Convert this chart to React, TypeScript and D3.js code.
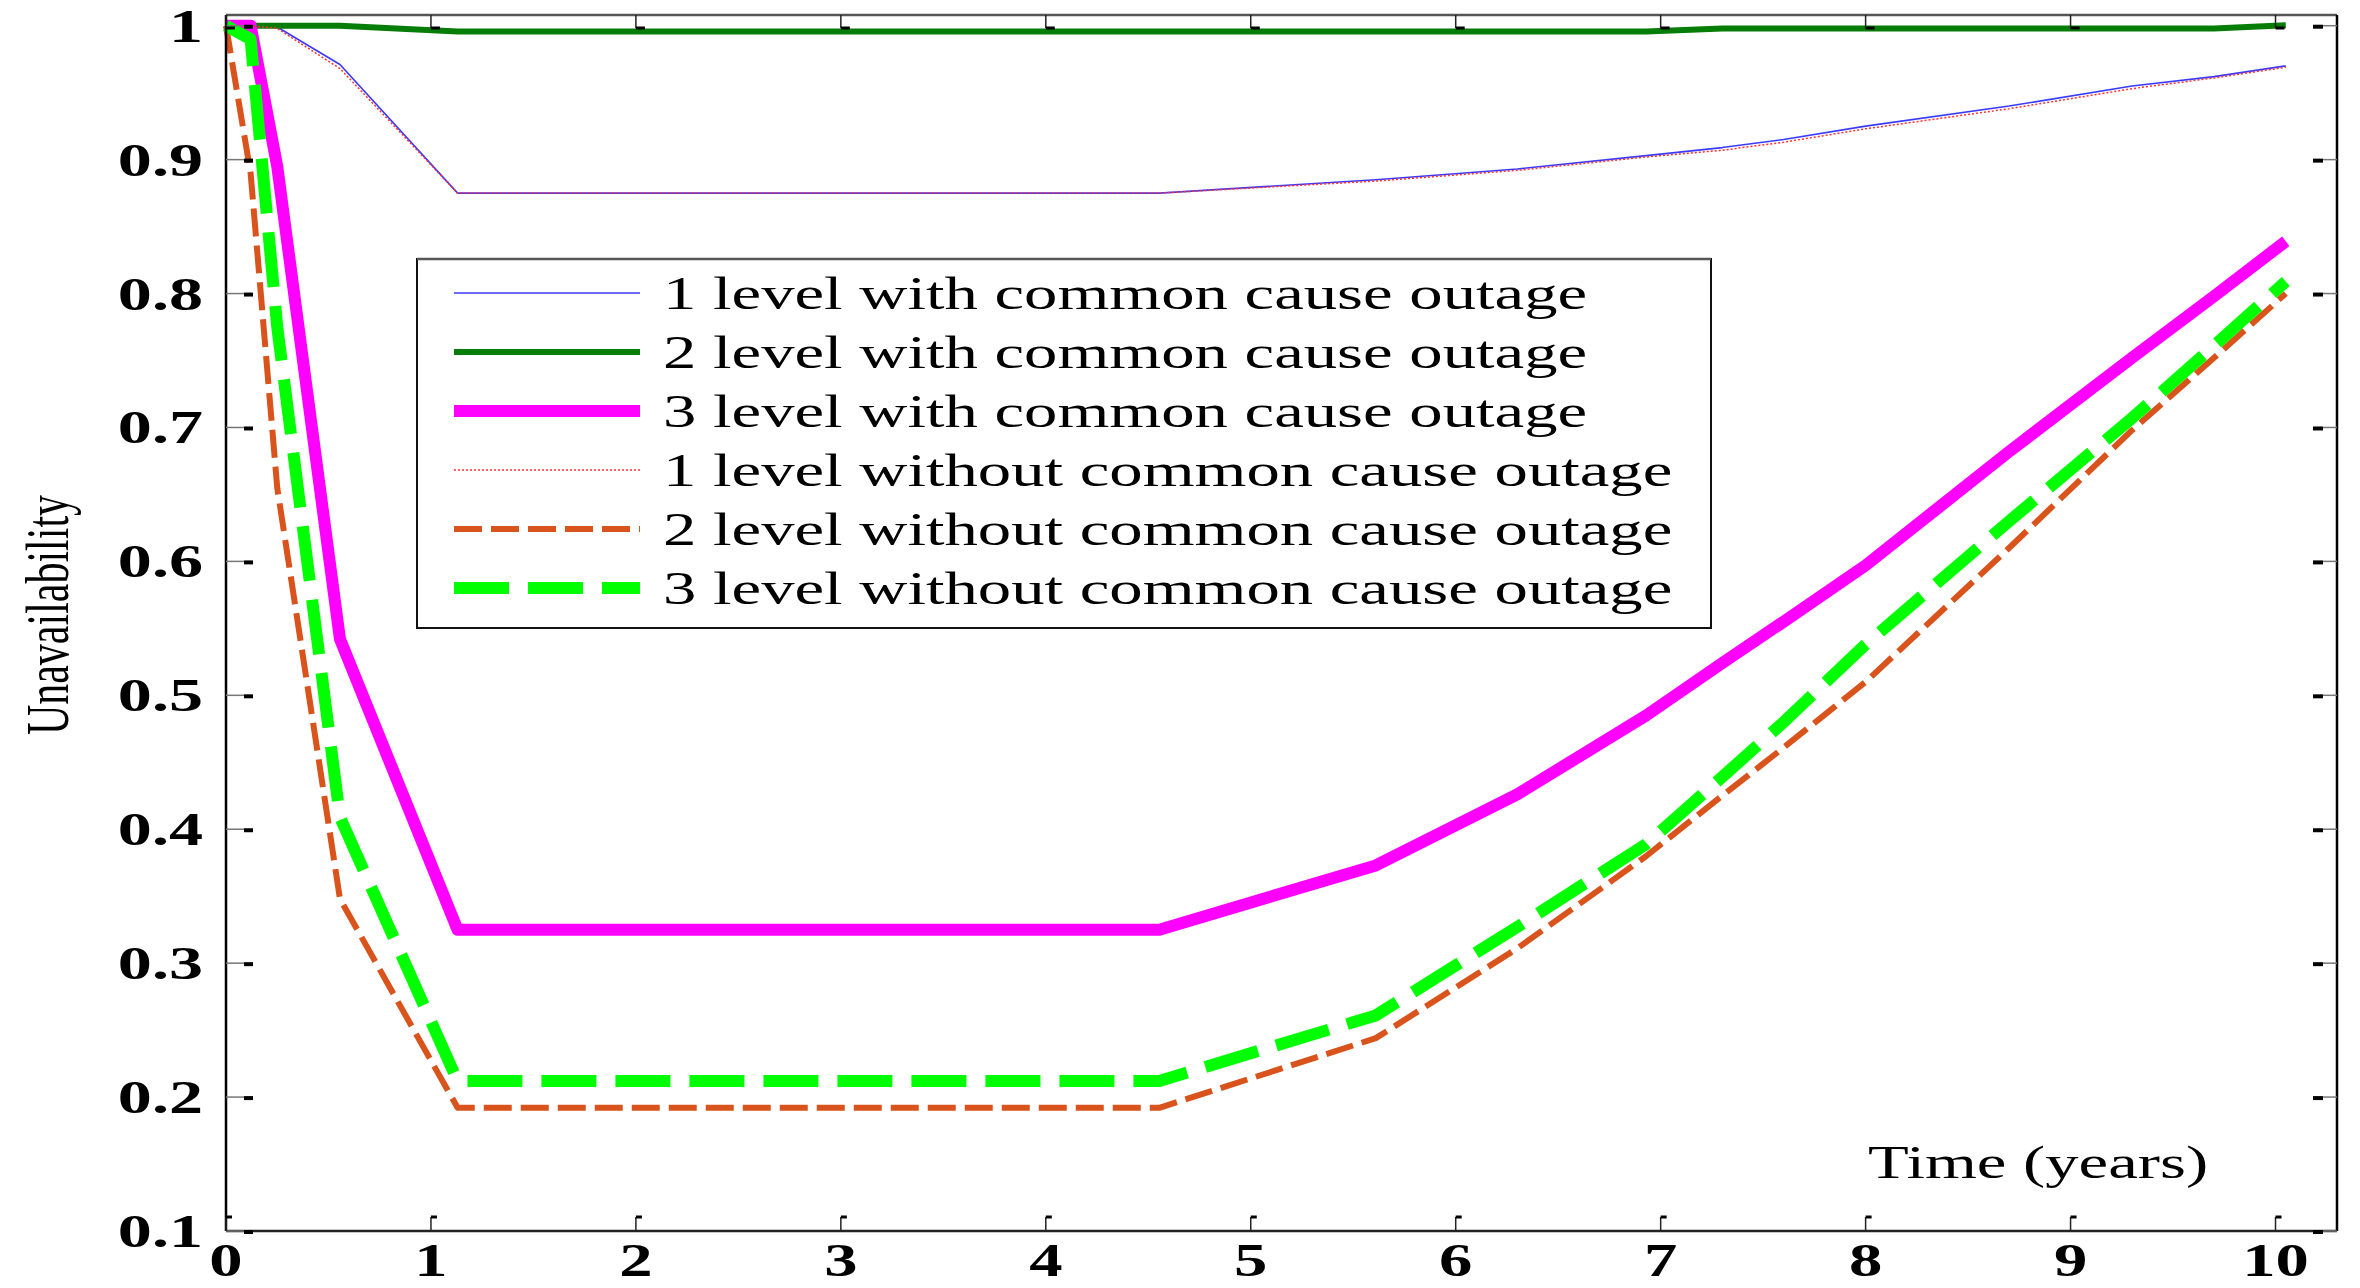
import { useEffect, useRef } from 'react';
import * as d3 from 'd3';

// time grid (years) shared by every curve
const timeYears = [0, 0.12, 0.25, 0.556, 1.13, 4.554, 5.61, 6.3, 6.93, 7.3, 7.6, 8.0, 8.7, 9.3, 9.7, 10.05];

const level1With = [1.0, 1.0, 0.999, 0.971, 0.875, 0.875, 0.885, 0.893, 0.903, 0.909, 0.915, 0.925, 0.94, 0.955, 0.962, 0.97];
const level2With = [1.0, 1.0, 1.0, 1.0, 0.9957, 0.9957, 0.9957, 0.9957, 0.9957, 0.998, 0.998, 0.998, 0.998, 0.998, 0.998, 1.0003];
const level3With = [1.0, 1.0, 0.895, 0.542, 0.325, 0.325, 0.373, 0.426, 0.485, 0.524, 0.555, 0.597, 0.682, 0.752, 0.798, 0.839];
const level1Without = [1.0, 1.0, 0.998, 0.968, 0.875, 0.875, 0.884, 0.892, 0.902, 0.907, 0.913, 0.923, 0.938, 0.953, 0.961, 0.969];
const level2Without = [1.0, 0.89, 0.655, 0.348, 0.192, 0.192, 0.244, 0.311, 0.38, 0.425, 0.461, 0.51, 0.61, 0.698, 0.752, 0.8];
const level3Without = [1.0, 0.99, 0.775, 0.409, 0.212, 0.212, 0.261, 0.327, 0.389, 0.439, 0.48, 0.538, 0.63, 0.707, 0.761, 0.809];

const legendLabels = [
  '1 level with common cause outage',
  '2 level with common cause outage',
  '3 level with common cause outage',
  '1 level without common cause outage',
  '2 level without common cause outage',
  '3 level without common cause outage',
];

const xTicks = [0, 1, 2, 3, 4, 5, 6, 7, 8, 9, 10];
const yTicks = [0.1, 0.2, 0.3, 0.4, 0.5, 0.6, 0.7, 0.8, 0.9, 1];

const xLabel = 'Time (years)';
const yLabel = 'Unavailability';

const W = 2360;
const H = 1288;
const STRETCH = 1.45; // the original figure is squashed vertically, text looks wide
const FONT = "'Liberation Serif', 'Times New Roman', serif";

const series = [
  { label: legendLabels[0], values: level1With, color: '#3a3aff', width: 1.6, dash: null },
  { label: legendLabels[1], values: level2With, color: '#067d06', width: 6, dash: null },
  { label: legendLabels[2], values: level3With, color: '#ff00ff', width: 12, dash: null },
  { label: legendLabels[3], values: level1Without, color: '#ff3030', width: 1.5, dash: '2,2' },
  { label: legendLabels[4], values: level2Without, color: '#d9541c', width: 6, dash: '28,9' },
  { label: legendLabels[5], values: level3Without, color: '#00ff00', width: 12, dash: '55,19' },
];

function UnavailabilityChart() {
  const svgRef = useRef<SVGSVGElement>(null);

  useEffect(() => {
    const svg = d3.select(svgRef.current);
    svg.selectAll('*').remove();

    const left = 226,
      right = 2337,
      top = 15,
      bottom = 1231;

    const x = d3.scaleLinear().domain([0, 10.3]).range([left, right]);
    const y = d3.scaleLinear().domain([0.1, 1.008]).range([bottom, top]);

    svg.append('rect').attr('width', W).attr('height', H).attr('fill', '#fff');

    // curves
    const line = d3
      .line<number>()
      .x((_, i) => x(timeYears[i]))
      .y((d) => y(d));

    series.forEach((s) => {
      svg
        .append('path')
        .attr('d', line(s.values))
        .attr('fill', 'none')
        .attr('stroke', s.color)
        .attr('stroke-width', s.width)
        .attr('stroke-linejoin', 'round')
        .attr('stroke-dasharray', s.dash);
    });

    // frame
    const frame = svg.append('g');
    frame.append('line').attr('x1', left).attr('x2', right).attr('y1', top).attr('y2', top)
      .attr('stroke', '#555').attr('stroke-width', 2.5);
    frame.append('line').attr('x1', left).attr('x2', right).attr('y1', bottom).attr('y2', bottom)
      .attr('stroke', '#222').attr('stroke-width', 2.5);
    frame.append('line').attr('x1', left).attr('x2', left).attr('y1', top).attr('y2', bottom)
      .attr('stroke', '#000').attr('stroke-width', 2.5);
    frame.append('line').attr('x1', right).attr('x2', right).attr('y1', top).attr('y2', bottom)
      .attr('stroke', '#000').attr('stroke-width', 2.5);

    // y ticks, left and right
    yTicks.forEach((t) => {
      const ty = y(t);
      frame.append('line').attr('x1', left).attr('x2', left + 18).attr('y1', ty).attr('y2', ty)
        .attr('stroke', '#777').attr('stroke-width', 1.5);
      frame.append('line').attr('x1', left + 18).attr('x2', left + 27).attr('y1', ty + 1).attr('y2', ty + 1)
        .attr('stroke', '#000').attr('stroke-width', 4);
      frame.append('line').attr('x1', right - 14).attr('x2', right).attr('y1', ty).attr('y2', ty)
        .attr('stroke', '#777').attr('stroke-width', 1.5);
      frame.append('line').attr('x1', right - 24).attr('x2', right - 14).attr('y1', ty + 1).attr('y2', ty + 1)
        .attr('stroke', '#000').attr('stroke-width', 4);

      svg
        .append('text')
        .attr('transform', `translate(203,${ty + 16}) scale(${STRETCH},1)`)
        .attr('text-anchor', 'end')
        .attr('font-family', FONT)
        .attr('font-weight', 'bold')
        .attr('font-size', 47)
        .text(String(Math.round(t * 10) / 10));
    });

    // x ticks, top and bottom
    xTicks.forEach((t) => {
      const tx = x(t);
      frame.append('line').attr('x1', tx).attr('x2', tx).attr('y1', top).attr('y2', top + 13)
        .attr('stroke', '#222').attr('stroke-width', 1.5);
      frame.append('line').attr('x1', tx).attr('x2', tx + 9).attr('y1', top + 13).attr('y2', top + 13)
        .attr('stroke', '#000').attr('stroke-width', 3);
      frame.append('line').attr('x1', tx).attr('x2', tx).attr('y1', bottom).attr('y2', bottom - 14)
        .attr('stroke', '#222').attr('stroke-width', 1.5);
      frame.append('line').attr('x1', tx).attr('x2', tx + 6).attr('y1', bottom - 14).attr('y2', bottom - 14)
        .attr('stroke', '#000').attr('stroke-width', 3);

      svg
        .append('text')
        .attr('transform', `translate(${tx},1276) scale(${STRETCH},1)`)
        .attr('text-anchor', 'middle')
        .attr('font-family', FONT)
        .attr('font-weight', 'bold')
        .attr('font-size', 46)
        .text(String(t));
    });

    // axis titles
    svg
      .append('text')
      .attr('transform', `translate(1868,1178) scale(${STRETCH},1)`)
      .attr('font-family', FONT)
      .attr('font-size', 46)
      .text(xLabel);

    svg
      .append('text')
      .attr('transform', `translate(68,615) scale(${STRETCH},1) rotate(-90)`)
      .attr('text-anchor', 'middle')
      .attr('font-family', FONT)
      .attr('font-size', 42)
      .text(yLabel);

    // legend
    const lg = svg.append('g');
    const lx = 417,
      ly = 259,
      lw = 1294,
      lh = 369;
    lg.append('rect').attr('x', lx).attr('y', ly).attr('width', lw).attr('height', lh)
      .attr('fill', '#fff').attr('stroke', '#111').attr('stroke-width', 2);
    lg.append('line').attr('x1', lx).attr('x2', lx + lw).attr('y1', ly).attr('y2', ly)
      .attr('stroke', '#555').attr('stroke-width', 2.5);

    series.forEach((s, i) => {
      const ry = 293 + i * 59;
      lg.append('line')
        .attr('x1', 454)
        .attr('x2', 640)
        .attr('y1', ry)
        .attr('y2', ry)
        .attr('stroke', s.color)
        .attr('stroke-width', s.width)
        .attr('stroke-dasharray', s.dash);
      lg.append('text')
        .attr('transform', `translate(663,${ry + 16}) scale(${STRETCH},1)`)
        .attr('font-family', FONT)
        .attr('font-size', 46)
        .text(s.label);
    });
  }, []);

  return (
    <svg
      ref={svgRef}
      width={W}
      height={H}
      viewBox={`0 0 ${W} ${H}`}
      style={{ position: 'absolute', left: 0, top: 0, display: 'block' }}
    ></svg>
  );
}

export default function App() {
  return <UnavailabilityChart />;
}
